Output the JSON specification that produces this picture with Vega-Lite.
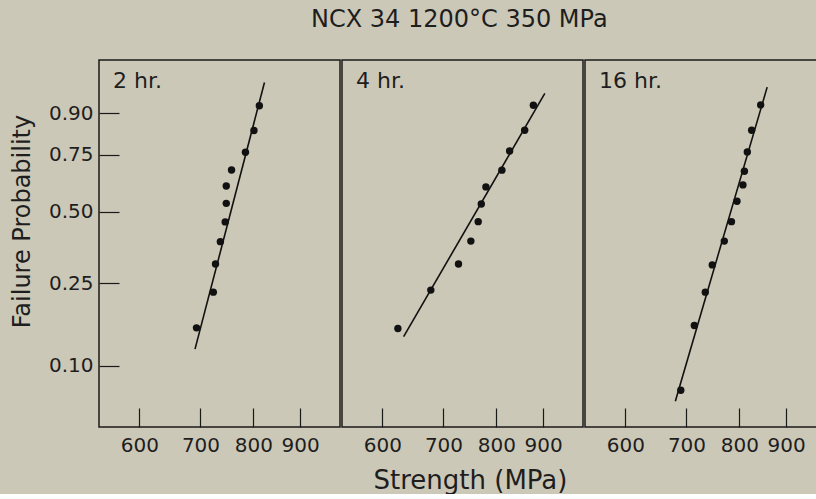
{
  "$schema": "https://vega.github.io/schema/vega-lite/v6.json",
  "background": "#ccc8b7",
  "padding": {"left": 9, "top": 8, "right": 0, "bottom": 0},
  "title": {
    "text": "NCX 34 1200°C 350 MPa",
    "font": "DejaVu Sans",
    "fontSize": 24,
    "fontWeight": "normal",
    "color": "#1e1e1e",
    "anchor": "start",
    "frame": "group",
    "dx": 212,
    "baseline": "alphabetic",
    "offset": 8
  },
  "datasets": {
    "points": [
      {"hr": "2 hr.", "strength": 693, "p": 0.154},
      {"hr": "2 hr.", "strength": 723, "p": 0.228},
      {"hr": "2 hr.", "strength": 727, "p": 0.306},
      {"hr": "2 hr.", "strength": 736, "p": 0.381},
      {"hr": "2 hr.", "strength": 745, "p": 0.457},
      {"hr": "2 hr.", "strength": 747, "p": 0.535},
      {"hr": "2 hr.", "strength": 747, "p": 0.612},
      {"hr": "2 hr.", "strength": 757, "p": 0.684},
      {"hr": "2 hr.", "strength": 784, "p": 0.761},
      {"hr": "2 hr.", "strength": 801, "p": 0.845},
      {"hr": "2 hr.", "strength": 812, "p": 0.920},
      {"hr": "4 hr.", "strength": 624, "p": 0.153},
      {"hr": "4 hr.", "strength": 678, "p": 0.233},
      {"hr": "4 hr.", "strength": 727, "p": 0.306},
      {"hr": "4 hr.", "strength": 750, "p": 0.383},
      {"hr": "4 hr.", "strength": 764, "p": 0.458},
      {"hr": "4 hr.", "strength": 770, "p": 0.532},
      {"hr": "4 hr.", "strength": 779, "p": 0.608},
      {"hr": "4 hr.", "strength": 811, "p": 0.683},
      {"hr": "4 hr.", "strength": 827, "p": 0.766},
      {"hr": "4 hr.", "strength": 859, "p": 0.846},
      {"hr": "4 hr.", "strength": 878, "p": 0.921},
      {"hr": "16 hr.", "strength": 690, "p": 0.075},
      {"hr": "16 hr.", "strength": 714, "p": 0.158},
      {"hr": "16 hr.", "strength": 734, "p": 0.228},
      {"hr": "16 hr.", "strength": 747, "p": 0.303},
      {"hr": "16 hr.", "strength": 770, "p": 0.383},
      {"hr": "16 hr.", "strength": 784, "p": 0.458},
      {"hr": "16 hr.", "strength": 795, "p": 0.544},
      {"hr": "16 hr.", "strength": 807, "p": 0.617},
      {"hr": "16 hr.", "strength": 810, "p": 0.678},
      {"hr": "16 hr.", "strength": 816, "p": 0.762},
      {"hr": "16 hr.", "strength": 825, "p": 0.846},
      {"hr": "16 hr.", "strength": 844, "p": 0.922}
    ],
    "fits": [
      {"hr": "2 hr.", "strength": 690.4, "p": 0.121},
      {"hr": "2 hr.", "strength": 822.5, "p": 0.965},
      {"hr": "4 hr.", "strength": 633.1, "p": 0.1395},
      {"hr": "4 hr.", "strength": 903.7, "p": 0.947},
      {"hr": "16 hr.", "strength": 680.6, "p": 0.066},
      {"hr": "16 hr.", "strength": 857.9, "p": 0.958}
    ]
  },
  "spacing": 0,
  "hconcat": [
    {
      "width": 241,
      "height": 367,
      "title": {"text": "2 hr.", "anchor": "start", "frame": "group", "baseline": "alphabetic", "offset": -50, "dx": 14, "fontSize": 22, "font": "DejaVu Sans", "fontWeight": "normal", "color": "#1e1e1e"},
      "encoding": {
        "x": {"field": "strength", "type": "quantitative", "scale": {"type": "log", "domain": [542, 995], "nice": false},
              "axis": {"values": [600, 700, 800, 900], "title": null}},
        "y": {"field": "w", "type": "quantitative", "scale": {"domain": [-3, 1.485], "nice": false, "zero": false},
              "axis": {"values": [-2.250367, -1.2459, -0.366513, 0.326634, 0.834032],
                       "labelExpr": "format(1 - exp(-exp(datum.value)), '.2f')",
                       "tickSize": -20,
                       "labelPadding": 26,
                       "title": "Failure Probability",
                       "titleY": 161,
                       "titleX": -70,
                       "titleBaseline": "alphabetic"}}
      },
      "layer": [
        {"data": {"name": "fits"},
         "transform": [{"filter": "datum.hr === '2 hr.'"}, {"calculate": "log(-log(1 - datum.p))", "as": "w"}],
         "mark": {"type": "line", "color": "#111111", "strokeWidth": 1.6}},
        {"data": {"name": "points"},
         "transform": [{"filter": "datum.hr === '2 hr.'"}, {"calculate": "log(-log(1 - datum.p))", "as": "w"}],
         "mark": {"type": "circle", "size": 55, "color": "#111111", "opacity": 1}}
      ]
    },
    {
      "width": 241,
      "height": 367,
      "title": {"text": "4 hr.", "anchor": "start", "frame": "group", "baseline": "alphabetic", "offset": -50, "dx": 14, "fontSize": 22, "font": "DejaVu Sans", "fontWeight": "normal", "color": "#1e1e1e"},
      "encoding": {
        "x": {"field": "strength", "type": "quantitative", "scale": {"type": "log", "domain": [542, 995], "nice": false},
              "axis": {"values": [600, 700, 800, 900], "title": "Strength (MPa)", "titleFontSize": 26, "titleX": 128, "titleY": 61, "titleBaseline": "alphabetic"}},
        "y": {"field": "w", "type": "quantitative", "scale": {"domain": [-3, 1.485], "nice": false, "zero": false}, "axis": null}
      },
      "layer": [
        {"data": {"name": "fits"},
         "transform": [{"filter": "datum.hr === '4 hr.'"}, {"calculate": "log(-log(1 - datum.p))", "as": "w"}],
         "mark": {"type": "line", "color": "#111111", "strokeWidth": 1.6}},
        {"data": {"name": "points"},
         "transform": [{"filter": "datum.hr === '4 hr.'"}, {"calculate": "log(-log(1 - datum.p))", "as": "w"}],
         "mark": {"type": "circle", "size": 55, "color": "#111111", "opacity": 1}}
      ]
    },
    {
      "width": 241,
      "height": 367,
      "title": {"text": "16 hr.", "anchor": "start", "frame": "group", "baseline": "alphabetic", "offset": -50, "dx": 14, "fontSize": 22, "font": "DejaVu Sans", "fontWeight": "normal", "color": "#1e1e1e"},
      "encoding": {
        "x": {"field": "strength", "type": "quantitative", "scale": {"type": "log", "domain": [542, 995], "nice": false},
              "axis": {"values": [600, 700, 800, 900], "title": null}},
        "y": {"field": "w", "type": "quantitative", "scale": {"domain": [-3, 1.485], "nice": false, "zero": false}, "axis": null}
      },
      "layer": [
        {"data": {"name": "fits"},
         "transform": [{"filter": "datum.hr === '16 hr.'"}, {"calculate": "log(-log(1 - datum.p))", "as": "w"}],
         "mark": {"type": "line", "color": "#111111", "strokeWidth": 1.6}},
        {"data": {"name": "points"},
         "transform": [{"filter": "datum.hr === '16 hr.'"}, {"calculate": "log(-log(1 - datum.p))", "as": "w"}],
         "mark": {"type": "circle", "size": 55, "color": "#111111", "opacity": 1}}
      ]
    }
  ],
  "config": {
    "view": {"stroke": "#1a1a1a", "strokeWidth": 1.5},
    "axis": {
      "domain": false,
      "grid": false,
      "tickColor": "#1a1a1a",
      "tickWidth": 1.2,
      "labelFont": "DejaVu Sans",
      "labelFontSize": 20,
      "labelColor": "#1e1e1e",
      "labelFlush": false,
      "labelOverlap": false,
      "titleFont": "DejaVu Sans",
      "titleFontSize": 24,
      "titleFontWeight": "normal",
      "titleColor": "#1e1e1e"
    },
    "axisX": {"tickSize": -19, "labelPadding": 27, "titlePadding": 17},
    "concat": {"spacing": 0}
  }
}
